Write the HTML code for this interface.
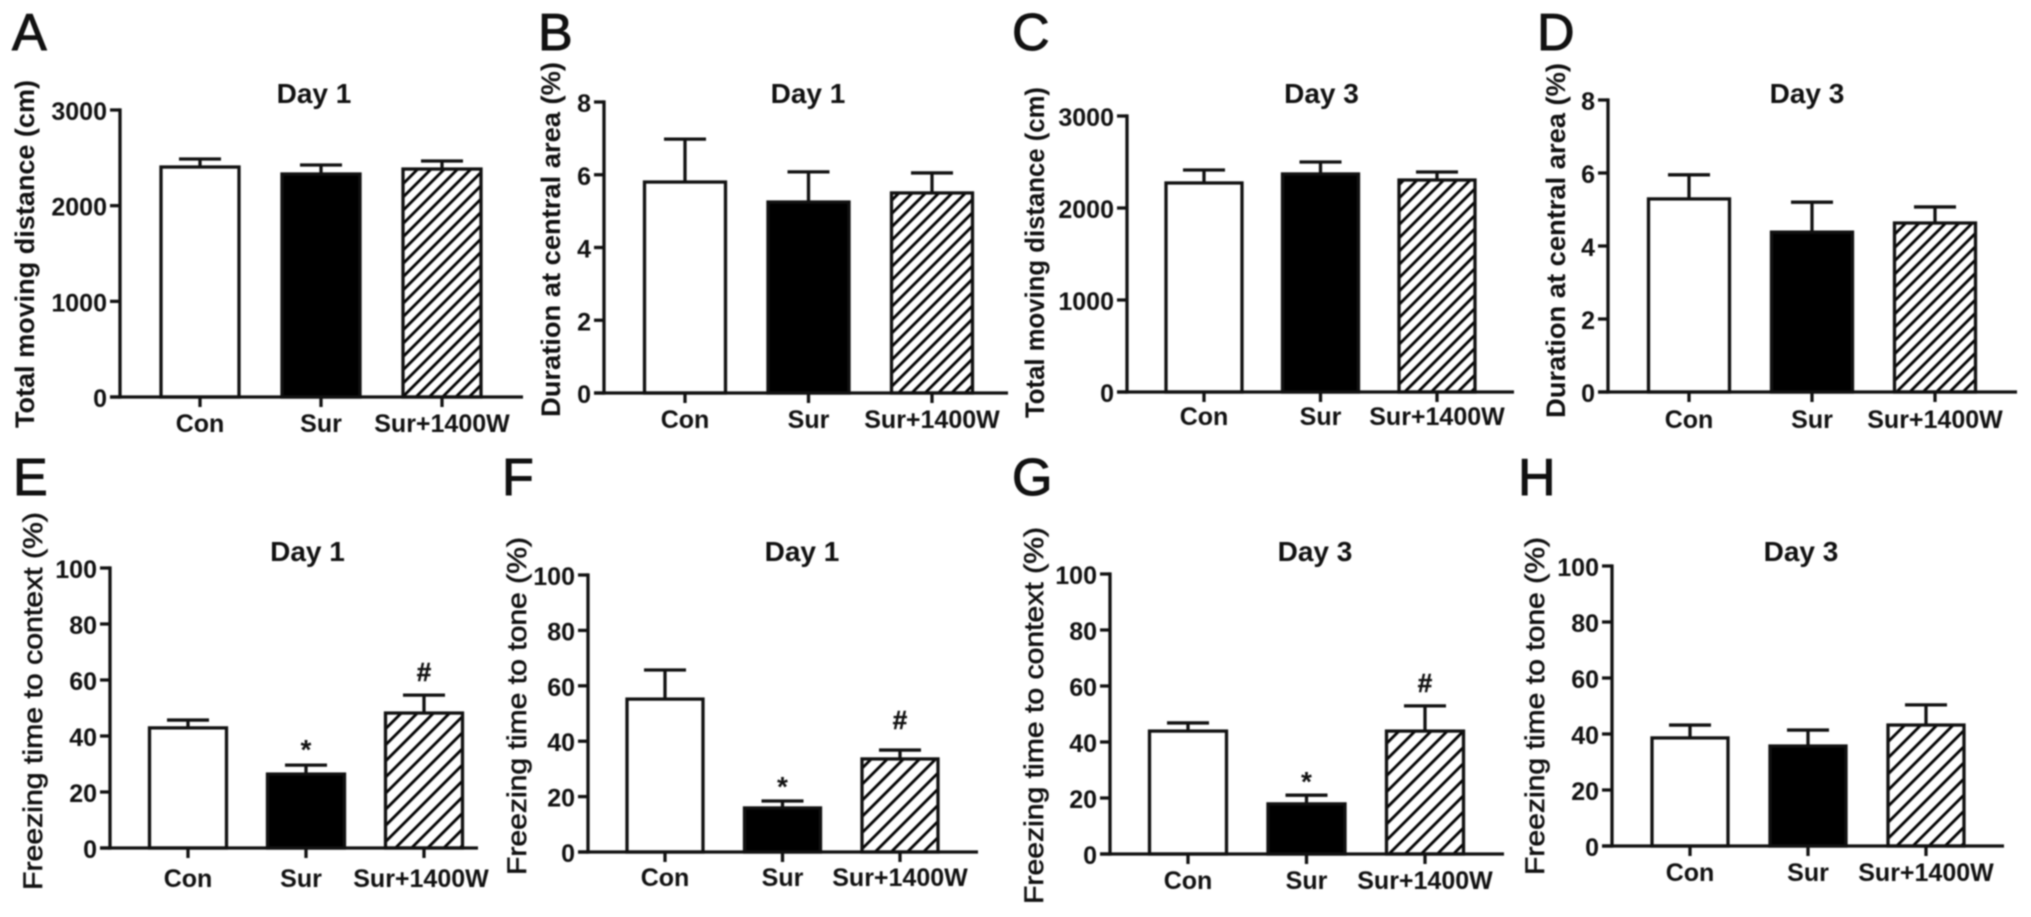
<!DOCTYPE html>
<html lang="en">
<head>
<meta charset="utf-8">
<title>Behavioural test bar charts</title>
<style>
  html, body { margin: 0; padding: 0; background: #fff; }
  body { width: 2031px; height: 917px; overflow: hidden; }
  svg { display: block; filter: blur(0.8px); }
  text { font-family: "Liberation Sans", Arial, sans-serif; fill: #111; }
</style>
</head>
<body>
<svg id="figure" xmlns="http://www.w3.org/2000/svg" width="2031" height="917" viewBox="0 0 2031 917">
  <defs>
    <pattern id="hatch-fine" width="9.4" height="9.4" patternUnits="userSpaceOnUse" patternTransform="rotate(45)">
      <rect width="9.4" height="9.4" fill="#fff"></rect>
      <rect width="2.8" height="9.4" fill="#000"></rect>
    </pattern>
    <pattern id="hatch-wide" width="11.4" height="11.4" patternUnits="userSpaceOnUse" patternTransform="rotate(45)">
      <rect width="11.4" height="11.4" fill="#fff"></rect>
      <rect width="2.8" height="11.4" fill="#000"></rect>
    </pattern>
  </defs>
</svg>
<script>
// Shared categories
const categories = ['Con', 'Sur', 'Sur+1400W'];
const markers = ['', '*', '#'];

// Tick labels
const distanceTicks = [0, 1000, 2000, 3000];
const durationTicks = [0, 2, 4, 6, 8];
const freezingTicks = [0, 20, 40, 60, 80, 100];

// Panel values
const panelAMeans = [2404, 2331, 2383];
const panelAErrors = [84, 94, 84];
const panelBMeans = [5.8, 5.25, 5.5];
const panelBErrors = [1.18, 0.83, 0.55];
const panelCMeans = [2272, 2370, 2304];
const panelCErrors = [141, 130, 87];
const panelDMeans = [5.29, 4.38, 4.63];
const panelDErrors = [0.66, 0.82, 0.44];
const panelEMeans = [42.9, 26.4, 48.2];
const panelEErrors = [2.8, 3.2, 6.4];
const panelFMeans = [55.2, 15.9, 33.6];
const panelFErrors = [10.5, 2.5, 3.2];
const panelGMeans = [43.9, 17.9, 43.9];
const panelGErrors = [2.9, 3.1, 9];
const panelHMeans = [38.6, 35.7, 43.2];
const panelHErrors = [4.6, 5.7, 7.2];

// Panel geometry (layout only)
const panels = [
  { id:'a', letter:'A', lx:12,   ly:50,  title:'Day 1', tx:314,    ty:103, yTitle:'Total moving distance (cm)',   ytx:34,   yStart:428, yLen:348, heavy:true,  axisX:120,  y0:397, yTop:110, xEnd:523,  first:200,  step:121,   barW:78, labelY:432, hatch:'hatch-fine', ticks:distanceTicks, means:panelAMeans, errors:panelAErrors, max:3000 },
  { id:'b', letter:'B', lx:538,  ly:50,  title:'Day 1', tx:808,    ty:103, yTitle:'Duration at central area (%)', ytx:560,  yStart:417, yLen:355, heavy:true,  axisX:604,  y0:393, yTop:102, xEnd:1008, first:685,  step:123.5, barW:81, labelY:428, hatch:'hatch-fine', ticks:durationTicks, means:panelBMeans, errors:panelBErrors, max:8 },
  { id:'c', letter:'C', lx:1012, ly:50,  title:'Day 3', tx:1321.5, ty:103, yTitle:'Total moving distance (cm)',   ytx:1044, yStart:418, yLen:331, heavy:true,  axisX:1127, y0:392, yTop:116, xEnd:1514, first:1204, step:116.5, barW:76, labelY:425, hatch:'hatch-fine', ticks:distanceTicks, means:panelCMeans, errors:panelCErrors, max:3000 },
  { id:'d', letter:'D', lx:1537, ly:50,  title:'Day 3', tx:1807,   ty:103, yTitle:'Duration at central area (%)', ytx:1565, yStart:418, yLen:355, heavy:true,  axisX:1608, y0:392, yTop:100, xEnd:2017, first:1689, step:123,   barW:81, labelY:428, hatch:'hatch-fine', ticks:durationTicks, means:panelDMeans, errors:panelDErrors, max:8 },
  { id:'e', letter:'E', lx:13,   ly:495, title:'Day 1', tx:307.5,  ty:561, yTitle:'Freezing time to context (%)', ytx:42,   yStart:890, yLen:378, heavy:false, axisX:110,  y0:848, yTop:568, xEnd:478,  first:188,  step:118,   barW:77, labelY:887, hatch:'hatch-wide', ticks:freezingTicks, means:panelEMeans, errors:panelEErrors, max:100, starGap:23, hashGap:23, labelShift:[0,-5,-3] },
  { id:'f', letter:'F', lx:502,  ly:495, title:'Day 1', tx:802,    ty:561, yTitle:'Freezing time to tone (%)',    ytx:526,  yStart:875, yLen:338, heavy:false, axisX:588,  y0:852, yTop:575, xEnd:978,  first:665,  step:117.5, barW:76, labelY:886, hatch:'hatch-wide', ticks:freezingTicks, means:panelFMeans, errors:panelFErrors, max:100, starGap:22, hashGap:30 },
  { id:'g', letter:'G', lx:1012, ly:495, title:'Day 3', tx:1315,   ty:561, yTitle:'Freezing time to context (%)', ytx:1043, yStart:904, yLen:377, heavy:false, axisX:1110, y0:854, yTop:574, xEnd:1504, first:1188, step:118.5, barW:77, labelY:889, hatch:'hatch-wide', ticks:freezingTicks, means:panelGMeans, errors:panelGErrors, max:100, starGap:21, hashGap:23 },
  { id:'h', letter:'H', lx:1518, ly:495, title:'Day 3', tx:1801,   ty:561, yTitle:'Freezing time to tone (%)',    ytx:1544, yStart:875, yLen:338, heavy:false, axisX:1612, y0:846, yTop:566, xEnd:2004, first:1690, step:118,   barW:76, labelY:881, hatch:'hatch-wide', ticks:freezingTicks, means:panelHMeans, errors:panelHErrors, max:100 }
];

const SVGNS = 'http://www.w3.org/2000/svg';
const figure = document.getElementById('figure');
const STROKE = 3.3;

function make(tag, attrs, parent, content) {
  const node = document.createElementNS(SVGNS, tag);
  for (const key in attrs) node.setAttribute(key, attrs[key]);
  if (content !== undefined) node.textContent = content;
  parent.appendChild(node);
  return node;
}

function drawPanel(p) {
  const yScale = v => p.y0 - (v / p.max) * (p.y0 - p.yTop);
  const xScale = i => p.first + i * p.step;

  const group = make('g', {}, figure);
  
  

  const letter = make('text', { x: p.lx, y: p.ly, 'font-size': 52, stroke: '#111', 'stroke-width': 1 }, group, p.letter);
  
  

  const title = make('text', { x: p.tx, y: p.ty, 'font-size': 28, 'font-weight': 'bold', 'text-anchor': 'middle' }, group, p.title);
  
  

  const yTitle = make('text', {
    x: 0, y: 0,
    transform: 'translate(' + p.ytx + ',' + p.yStart + ') rotate(-90)',
    'font-size': 27,
    'font-weight': p.heavy ? 'bold' : 'normal',
    stroke: p.heavy ? 'none' : '#111',
    'stroke-width': p.heavy ? 0 : 0.6,
    textLength: p.yLen,
    lengthAdjust: 'spacingAndGlyphs'
  }, group, p.yTitle);
  
  

  p.means.forEach((mean, i) => {
    const cx = xScale(i);
    const top = yScale(mean);
    const errTop = yScale(mean + p.errors[i]);

    const stem = make('line', { x1: cx, x2: cx, y1: top, y2: errTop, stroke: '#111', 'stroke-width': STROKE }, group);
    
    

    const cap = make('line', { x1: cx - 21, x2: cx + 21, y1: errTop, y2: errTop, stroke: '#111', 'stroke-width': STROKE }, group);
    
    

    const fill = i === 0 ? '#fff' : i === 1 ? '#000' : 'url(#' + p.hatch + ')';
    const bar = make('rect', { x: cx - p.barW / 2, y: top, width: p.barW, height: p.y0 - top, fill: fill, stroke: '#111', 'stroke-width': STROKE }, group);
    
    

    const xTick = make('line', { x1: cx, x2: cx, y1: p.y0, y2: p.y0 + 10, stroke: '#111', 'stroke-width': STROKE }, group);
    
    

    const shift = p.labelShift ? p.labelShift[i] : 0;
    const xLabel = make('text', { x: cx + shift, y: p.labelY, 'font-size': 25, 'font-weight': 'bold', 'text-anchor': 'middle' }, group, categories[i]);
    
    

    if (p.starGap && markers[i] === '*') {
      const star = make('text', { x: cx, y: errTop - p.starGap + 17, 'font-size': 28, 'font-weight': 'bold', 'text-anchor': 'middle' }, group, markers[i]);
      
      
    }
    if (p.hashGap && markers[i] === '#') {
      const hash = make('text', { x: cx, y: errTop - p.hashGap + 9, 'font-size': 26, 'font-weight': 'bold', 'text-anchor': 'middle', stroke: '#111', 'stroke-width': 0.5 }, group, markers[i]);
      
      
    }
  });

  const yAxis = make('line', { x1: p.axisX, x2: p.axisX, y1: p.yTop - STROKE / 2, y2: p.y0 + STROKE / 2, stroke: '#111', 'stroke-width': STROKE }, group);
  
  

  const xAxis = make('line', { x1: p.axisX - 10, x2: p.xEnd, y1: p.y0, y2: p.y0, stroke: '#111', 'stroke-width': STROKE }, group);
  
  

  p.ticks.forEach(value => {
    const y = yScale(value);
    const tick = make('line', { x1: p.axisX - 10, x2: p.axisX, y1: y, y2: y, stroke: '#111', 'stroke-width': STROKE }, group);
    
    

    const label = make('text', { x: p.axisX - 13, y: y + 10, 'font-size': 25, 'font-weight': 'bold', 'text-anchor': 'end' }, group, String(value));
    
    
  });
}

panels.forEach(drawPanel);
</script>
</body>
</html>
